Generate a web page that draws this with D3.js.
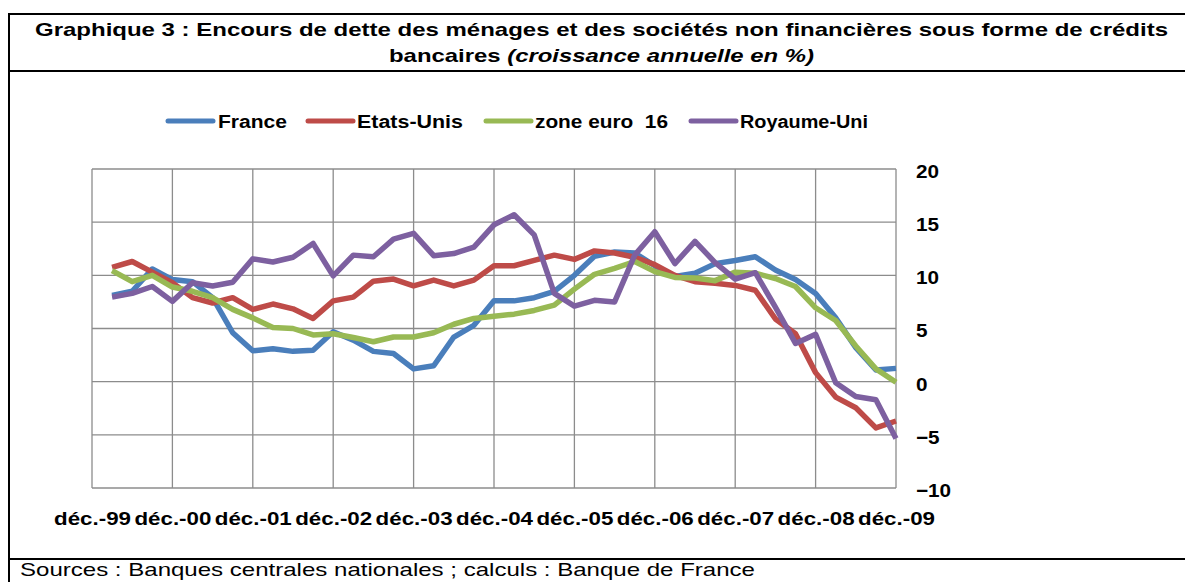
<!DOCTYPE html>
<html>
<head>
<meta charset="utf-8">
<script src="https://cdn.jsdelivr.net/npm/d3@7"></script>
<style>
  html, body { margin: 0; padding: 0; background: #fff; }
  svg { display: block; font-family: "Liberation Sans", Arial, sans-serif; }
</style>
</head>
<body>
<svg id="chart" width="1185" height="582"></svg>
<script>
// ---- Data ----
const quarters = [
  "déc.-99",
  "mars-00","juin-00","sept.-00","déc.-00",
  "mars-01","juin-01","sept.-01","déc.-01",
  "mars-02","juin-02","sept.-02","déc.-02",
  "mars-03","juin-03","sept.-03","déc.-03",
  "mars-04","juin-04","sept.-04","déc.-04",
  "mars-05","juin-05","sept.-05","déc.-05",
  "mars-06","juin-06","sept.-06","déc.-06",
  "mars-07","juin-07","sept.-07","déc.-07",
  "mars-08","juin-08","sept.-08","déc.-08",
  "mars-09","juin-09","sept.-09","déc.-09"
];
const xTickLabels = ["déc.-99","déc.-00","déc.-01","déc.-02","déc.-03","déc.-04","déc.-05","déc.-06","déc.-07","déc.-08","déc.-09"];
const yTicks = [-10, -5, 0, 5, 10, 15, 20];

const seriesNames = ["France", "Etats-Unis", "zone euro  16", "Royaume-Uni"];
const france = [null,
  8.1, 8.5, 10.6, 9.6,
  9.4, 7.9, 4.6, 2.9,
  3.1, 2.85, 2.95, 4.7,
  3.9, 2.85, 2.65, 1.2,
  1.5, 4.2, 5.3, 7.6,
  7.6, 7.9, 8.5, 10.0,
  11.8, 12.2, 12.1, 10.9,
  9.9, 10.2, 11.1, 11.4,
  11.75, 10.5, 9.6, 8.3,
  6.0, 3.2, 1.1, 1.25];
const etatsUnis = [null,
  10.75, 11.3, 10.3, 9.3,
  7.9, 7.4, 7.9, 6.8,
  7.3, 6.85, 5.95, 7.6,
  7.95, 9.45, 9.65, 9.0,
  9.55, 9.0, 9.55, 10.9,
  10.9, 11.4, 11.9, 11.5,
  12.3, 12.1, 11.7, 11.0,
  10.0, 9.4, 9.25, 9.05,
  8.6, 5.9, 4.5, 0.85,
  -1.45, -2.45, -4.35, -3.7];
const zoneEuro = [null,
  10.45, 9.4, 10.0, 8.9,
  8.5, 7.9, 6.8, 6.0,
  5.1, 5.0, 4.4, 4.5,
  4.15, 3.75, 4.2, 4.2,
  4.6, 5.4, 5.95, 6.15,
  6.35, 6.7, 7.2, 8.7,
  10.1, 10.65, 11.3, 10.35,
  9.8, 9.75, 9.5, 10.3,
  10.2, 9.7, 8.95, 6.95,
  5.75, 3.35, 1.2, -0.05];
const royaumeUni = [null,
  7.95, 8.3, 8.95, 7.55,
  9.3, 9.0, 9.35, 11.55,
  11.25, 11.7, 13.0, 9.95,
  11.9, 11.75, 13.4, 13.95,
  11.85, 12.05, 12.65, 14.75,
  15.7, 13.8, 8.3, 7.1,
  7.65, 7.5, 11.9, 14.1,
  11.1, 13.2, 11.2, 9.65,
  10.25, 7.0, 3.6, 4.45,
  -0.1, -1.4, -1.7, -5.35];
const seriesValues = [france, etatsUnis, zoneEuro, royaumeUni];
const seriesColors = ["#4A7EBB", "#BE4B48", "#98B954", "#7D60A0"];

// ---- Layout ----
const svg = d3.select("#chart");
const plot = { left: 92, right: 896, top: 169, bottom: 488 };

function fit(sel, w) {
  sel.attr("textLength", w).attr("lengthAdjust", "spacingAndGlyphs");
}
function stretch(sel, k) {
  sel.each(function () {
    const w = this.getComputedTextLength();
    d3.select(this).attr("textLength", w * k).attr("lengthAdjust", "spacingAndGlyphs");
  });
}

// frame
const frame = svg.append("g").attr("stroke", "#000").attr("stroke-width", 2);
frame.append("line").attr("x1", 9).attr("x2", 1185).attr("y1", 14).attr("y2", 14);
frame.append("line").attr("x1", 9).attr("x2", 1185).attr("y1", 71).attr("y2", 71);
frame.append("line").attr("x1", 9).attr("x2", 1185).attr("y1", 559).attr("y2", 559);
frame.append("line").attr("x1", 9).attr("x2", 9).attr("y1", 13).attr("y2", 582);

// title
const t1 = svg.append("text").attr("x", 35).attr("y", 36)
  .attr("font-size", 19).attr("font-weight", "bold").attr("fill", "#000")
  .text("Graphique 3 : Encours de dette des ménages et des sociétés non financières sous forme de crédits");
fit(t1, 1133);
const t2 = svg.append("text").attr("x", 389).attr("y", 62)
  .attr("font-size", 19).attr("font-weight", "bold").attr("fill", "#000");
t2.append("tspan").text("bancaires ");
t2.append("tspan").attr("font-style", "italic").text("(croissance annuelle en %)");
fit(t2, 425);

// scales
const x = d3.scalePoint().domain(quarters).range([plot.left, plot.right]);
const y = d3.scaleLinear().domain([-10, 20]).range([plot.bottom, plot.top]);

// grid
const grid = svg.append("g").attr("stroke", "#8C8C8C").attr("stroke-width", 1.3);
grid.selectAll("line.h").data(yTicks).join("line").attr("class", "h")
  .attr("x1", plot.left).attr("x2", plot.right)
  .attr("y1", d => y(d)).attr("y2", d => y(d));
grid.selectAll("line.v").data(xTickLabels).join("line").attr("class", "v")
  .attr("x1", d => x(d)).attr("x2", d => x(d))
  .attr("y1", plot.top).attr("y2", plot.bottom);

// y axis labels (right)
const yAxis = svg.append("g")
  .attr("transform", `translate(${plot.right},0)`)
  .call(d3.axisRight(y).tickValues(yTicks).tickSize(0).tickPadding(20).tickFormat(d3.format("d")));
yAxis.select(".domain").remove();
yAxis.selectAll("text")
  .attr("font-family", "Liberation Sans, Arial, sans-serif")
  .attr("font-size", 19).attr("font-weight", "bold").attr("fill", "#000")
  .attr("dy", "0.44em")
  .call(stretch, 1.09);

// x axis labels
const xAxis = svg.append("g")
  .attr("transform", `translate(0,${plot.bottom})`)
  .call(d3.axisBottom(x).tickValues(xTickLabels).tickSize(0).tickPadding(0));
xAxis.select(".domain").remove();
xAxis.selectAll("text")
  .attr("font-family", "Liberation Sans, Arial, sans-serif")
  .attr("font-size", 18).attr("font-weight", "bold").attr("fill", "#000")
  .attr("y", 37).attr("dy", 0)
  .call(fit, 77);

// lines
const line = d3.line()
  .defined(d => d != null)
  .x((d, i) => x(quarters[i]))
  .y(d => y(d));
svg.append("g").selectAll("path").data(seriesValues).join("path")
  .attr("d", d => line(d))
  .attr("fill", "none")
  .attr("stroke", (d, i) => seriesColors[i])
  .attr("stroke-width", 5.5)
  .attr("stroke-linejoin", "round")
  .attr("stroke-linecap", "butt");

// legend
const legendPos = [
  { lx: 168, tx: 218, w: 69 },
  { lx: 308, tx: 357, w: 106 },
  { lx: 486, tx: 535, w: 133 },
  { lx: 691, tx: 740, w: 128 }
];
const lg = svg.append("g");
seriesNames.forEach((name, i) => {
  const p = legendPos[i];
  lg.append("line").attr("x1", p.lx).attr("x2", p.lx + 45)
    .attr("y1", 121).attr("y2", 121)
    .attr("stroke", seriesColors[i]).attr("stroke-width", 5).attr("stroke-linecap", "round");
  const t = lg.append("text").attr("x", p.tx).attr("y", 128)
    .attr("font-size", 18).attr("font-weight", "bold").attr("fill", "#000")
    .attr("xml:space", "preserve").style("white-space", "pre")
    .text(name);
  fit(t, p.w);
});

// source
const src = svg.append("text").attr("x", 20).attr("y", 576)
  .attr("font-size", 19).attr("fill", "#000")
  .text("Sources : Banques centrales nationales ; calculs : Banque de France");
fit(src, 735);
</script>
</body>
</html>
